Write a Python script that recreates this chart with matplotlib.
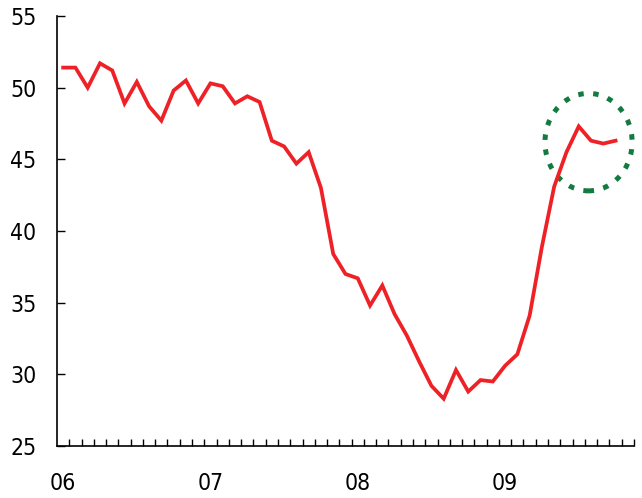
import numpy as np
import matplotlib
matplotlib.use('Agg')
import matplotlib.pyplot as plt
from matplotlib.patches import Ellipse

plt.rcParams['font.family'] = ['DejaVu Sans']
plt.rcParams['font.stretch'] = 'condensed'

# monthly index, Jan 2006 - Oct 2009
values = [51.4, 51.4, 50.0, 51.7, 51.2, 48.9, 50.4, 48.7, 47.7, 49.8, 50.5, 48.9,
          50.3, 50.1, 48.9, 49.4, 49.0, 46.3, 45.9, 44.7, 45.5, 43.0, 38.4, 37.0,
          36.7, 34.8, 36.2, 34.2, 32.7, 30.9, 29.2, 28.3, 30.3, 28.8, 29.6, 29.5,
          30.6, 31.4, 34.1, 38.9, 43.1, 45.5, 47.3, 46.3, 46.1, 46.3]
year_labels = ['06', '07', '08', '09']
n_months = 47
y_ticks = [25, 30, 35, 40, 45, 50, 55]

fig = plt.figure(figsize=(6.42, 4.98), dpi=100)
ax = fig.add_axes([0.0888, 0.1044, 0.8987, 0.8635])

months = np.arange(len(values))
ax.plot(months, values, color='#ee2226', lw=2.7, solid_joinstyle='miter')

# highlight recent recovery
ring = Ellipse((42.8, 46.2), 7.1, 6.8, fill=False, edgecolor='#137b3f',
               lw=3.6, linestyle=(0, (1.1, 1.9)), capstyle='butt', clip_on=False)
ax.add_patch(ring)

ax.set_xlim(-0.5, n_months - 0.5)
ax.set_ylim(25, 55)

ax.set_xticks([12 * i for i in range(len(year_labels))])
ax.set_xticklabels(year_labels)
ax.set_xticks(np.arange(0.5, n_months, 1), minor=True)
ax.tick_params(axis='x', which='major', length=0, pad=19, labelsize=16.5)
ax.tick_params(axis='x', which='minor', direction='in', length=5, width=1)

ax.set_yticks(y_ticks)
ax.tick_params(axis='y', direction='in', length=5.5, width=1, pad=15, labelsize=16.5)

for side in ['top', 'right']:
    ax.spines[side].set_visible(False)
for side in ['left', 'bottom']:
    ax.spines[side].set_linewidth(1.2)

fig.savefig('out.png', dpi=100)
